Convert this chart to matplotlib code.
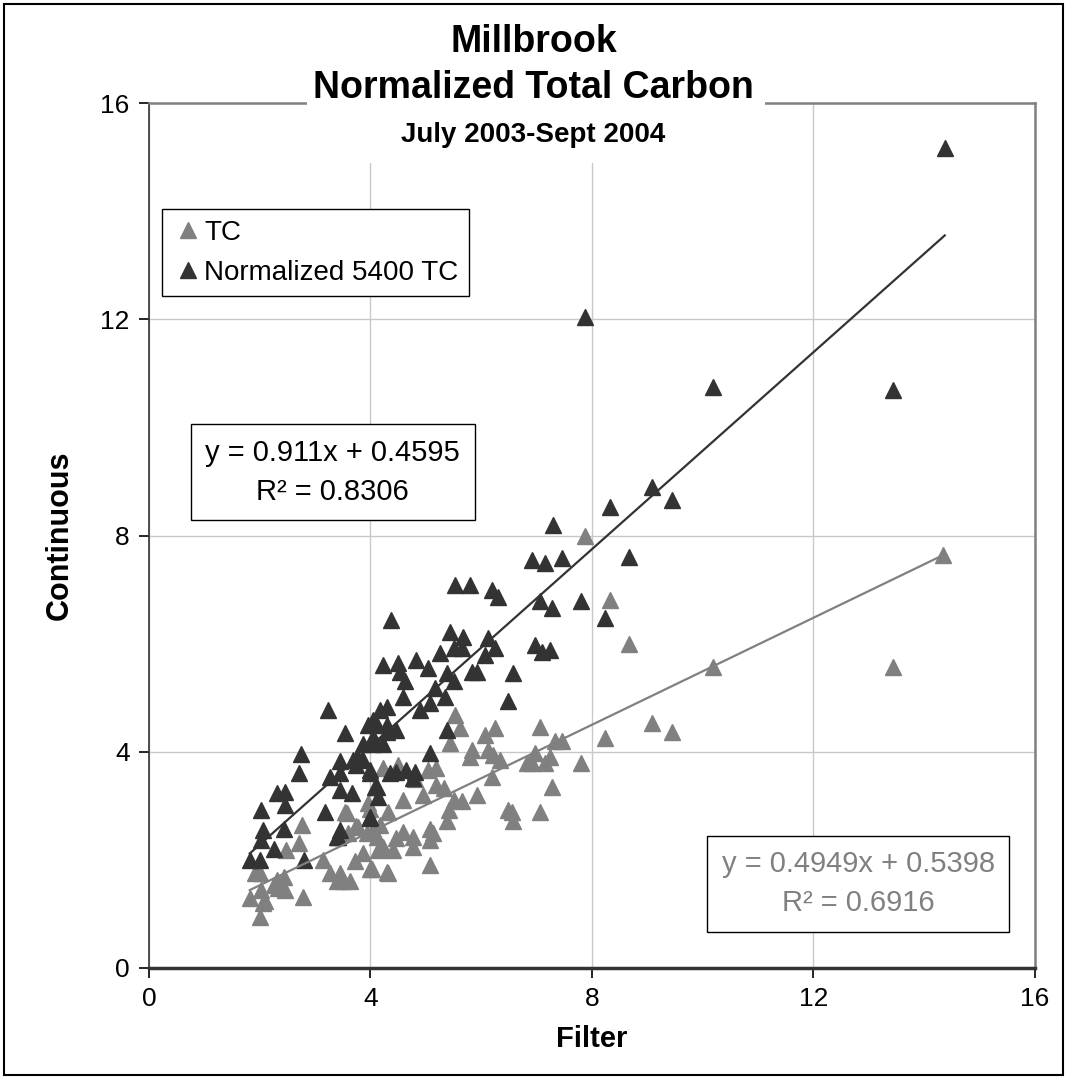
import matplotlib
matplotlib.use('Agg')
import matplotlib.pyplot as plt
from matplotlib.patches import Rectangle
import numpy as np

plt.rcParams['font.family'] = ['Liberation Sans', 'DejaVu Sans']

# TC (filter, continuous)
tc_x = [2.00, 2.06, 1.82, 2.03, 2.25, 2.46, 2.43, 2.31, 1.91, 2.79,
        2.48, 2.71, 2.76, 3.15, 3.27, 3.45, 3.63, 3.39, 3.50, 3.72,
        3.87, 3.99, 3.78, 3.93, 4.11, 4.23, 4.29, 3.54, 4.32, 4.02,
        4.77, 4.41, 4.14, 5.07, 5.07, 4.59, 4.77, 4.47, 5.07, 5.13,
        4.32, 4.59, 4.23, 4.50, 5.04, 5.19, 5.19, 5.32, 5.41, 5.38,
        5.50, 5.65, 5.92, 5.53, 5.62, 5.44, 6.07, 6.25, 5.83, 5.80,
        6.13, 6.22, 6.34, 6.19, 6.49, 6.58, 6.55, 7.06, 7.27, 6.82,
        6.91, 7.15, 6.97, 7.24, 7.06, 7.33, 7.45, 7.81, 8.23, 9.08,
        9.44, 10.19, 13.44, 14.34, 8.66, 8.33, 7.87, 3.57, 3.96, 3.74,
        3.99, 4.17, 4.05, 2.00, 2.09, 2.33, 4.80, 4.95, 3.60]
tc_y = [0.95, 1.20, 1.29, 1.44, 1.54, 1.44, 1.69, 1.63, 1.76, 1.32,
        2.18, 2.31, 2.65, 2.00, 1.76, 1.76, 1.60, 1.60, 1.60, 1.97,
        2.12, 1.84, 2.61, 2.49, 2.43, 2.24, 1.78, 2.89, 1.75, 1.84,
        2.24, 2.18, 2.18, 2.37, 1.90, 2.52, 2.43, 2.40, 2.58, 2.49,
        2.89, 3.11, 3.70, 3.76, 3.66, 3.70, 3.39, 3.33, 2.92, 2.71,
        3.11, 3.08, 3.20, 4.68, 4.43, 4.16, 4.31, 4.43, 4.03, 3.91,
        4.03, 3.94, 3.85, 3.54, 2.92, 2.71, 2.89, 2.89, 3.35, 3.79,
        3.79, 3.79, 3.97, 3.91, 4.46, 4.19, 4.19, 3.79, 4.25, 4.53,
        4.37, 5.57, 5.57, 7.64, 6.00, 6.81, 8.00, 2.87, 3.05, 2.62,
        2.95, 2.64, 2.55, 1.76, 1.23, 1.48, 3.50, 3.20, 2.50]

# Normalized 5400 TC (filter, continuous)
norm_x = [1.82, 2.00, 2.80, 2.25, 2.03, 2.06, 2.43, 2.03, 2.46, 2.31,
          2.46, 2.71, 2.74, 3.18, 3.45, 3.42, 3.99, 3.45, 3.66, 3.27,
          3.45, 3.45, 3.75, 3.87, 3.99, 4.11, 4.14, 3.24, 3.54, 3.87,
          4.05, 4.23, 3.96, 4.11, 4.29, 4.17, 4.29, 4.23, 4.37, 4.50,
          4.83, 5.04, 4.53, 4.62, 5.38, 5.50, 5.83, 5.92, 6.58, 5.16,
          5.35, 4.59, 5.07, 4.89, 6.49, 5.26, 5.44, 5.68, 5.50, 5.65,
          6.13, 6.25, 6.07, 5.53, 5.80, 6.19, 6.31, 6.91, 7.15, 7.45,
          7.30, 7.87, 8.66, 7.06, 7.27, 7.81, 8.23, 6.97, 7.09, 7.24,
          8.33, 9.08, 9.44, 10.19, 13.44, 14.37, 4.05, 4.05, 4.47, 4.29,
          5.38, 5.07, 4.35, 4.47, 4.65, 4.80, 4.77, 3.99, 4.08, 3.99,
          3.69, 3.74, 3.39]
norm_y = [2.00, 2.00, 2.00, 2.21, 2.37, 2.55, 2.58, 2.92, 3.02, 3.24,
          3.26, 3.60, 3.96, 2.89, 2.55, 2.43, 2.77, 3.29, 3.24, 3.54,
          3.60, 3.82, 3.91, 3.85, 3.60, 3.35, 3.17, 4.77, 4.35, 4.15,
          4.15, 4.15, 4.50, 4.50, 4.50, 4.77, 4.83, 5.60, 6.44, 5.64,
          5.70, 5.54, 5.48, 5.30, 5.45, 5.30, 5.48, 5.48, 5.45, 5.17,
          5.02, 5.02, 4.90, 4.77, 4.93, 5.82, 6.22, 6.13, 5.91, 5.91,
          6.10, 5.91, 5.79, 7.08, 7.08, 6.99, 6.87, 7.55, 7.49, 7.58,
          8.20, 12.05, 7.61, 6.78, 6.65, 6.78, 6.47, 5.97, 5.85, 5.88,
          8.53, 8.90, 8.66, 10.75, 10.69, 15.17, 4.59, 4.28, 4.40, 4.37,
          4.40, 3.97, 3.60, 3.63, 3.66, 3.63, 3.51, 3.66, 3.35, 2.80,
          3.85, 3.75, 2.43]

# trendline coefficients (slope, intercept, r2) as printed on the chart
tc_fit = (0.4949, 0.5398, 0.6916)
norm_fit = (0.911, 0.4595, 0.8306)

ticks = [0, 4, 8, 12, 16]

DARK = '#333333'
GREY = '#808080'

fig = plt.figure(figsize=(10.67, 10.79), dpi=100)
ax = fig.add_axes([0.1396, 0.1029, 0.8304, 0.8016])

ax.plot(tc_x, tc_y, linestyle='none', marker='^', ms=11, color=GREY,
        markeredgecolor=GREY, label='TC', zorder=3)
ax.plot(norm_x, norm_y, linestyle='none', marker='^', ms=11, color=DARK,
        markeredgecolor=DARK, label='Normalized 5400 TC', zorder=4)

xs = np.array([min(norm_x), max(norm_x)])
ax.plot(xs, norm_fit[0] * xs + norm_fit[1], color=DARK, lw=1.6, zorder=5)
xs = np.array([min(tc_x), max(tc_x)])
ax.plot(xs, tc_fit[0] * xs + tc_fit[1], color=GREY, lw=1.6, zorder=5)

ax.set_xlim(0, 16)
ax.set_ylim(0, 16)
ax.set_xticks(ticks)
ax.set_yticks(ticks)
ax.grid(True, color='#c8c8c8', lw=1)
ax.set_axisbelow(True)
ax.tick_params(direction='out', length=7, width=1.2, labelsize=19, pad=7, colors='black')

for side in ['top', 'right']:
    ax.spines[side].set_color(GREY)
    ax.spines[side].set_linewidth(1.8)
ax.spines['left'].set_color(DARK)
ax.spines['left'].set_linewidth(1.2)
ax.spines['bottom'].set_color(DARK)
ax.spines['bottom'].set_linewidth(2.5)

ax.set_xlabel('Filter', fontsize=21, fontweight='bold', labelpad=10)
ax.set_ylabel('Continuous', fontsize=22, fontweight='bold', labelpad=18)

leg = ax.legend(loc='upper left', bbox_to_anchor=(0.0147, 0.877), borderaxespad=0,
                fontsize=20, fancybox=False, edgecolor='black', framealpha=1,
                handletextpad=0.05, handlelength=1.1, borderpad=0.38, labelspacing=0.5)
leg.get_frame().set_linewidth(1.0)

ax.text(3.32, 9.17, f'y = {norm_fit[0]}x + {norm_fit[1]}\nR\u00b2 = {norm_fit[2]}',
        ha='center', va='center', fontsize=21, color='black', linespacing=1.5,
        bbox=dict(boxstyle='square,pad=0.5', fc='white', ec='black', lw=1.0), zorder=6)
ax.text(12.81, 1.56, f'y = {tc_fit[0]}x + {tc_fit[1]}\nR\u00b2 = {tc_fit[2]}',
        ha='center', va='center', fontsize=21, color=GREY, linespacing=1.5,
        bbox=dict(boxstyle='square,pad=0.5', fc='white', ec='black', lw=1.0), zorder=6)

# white title area over the top of the plot frame
fig.patches.append(Rectangle((307 / 1067, 1 - 163 / 1079), 458 / 1067, 150 / 1079,
                             transform=fig.transFigure, fc='white', ec='none', zorder=2))
fig.text(0.5, 1 - 42 / 1079, 'Millbrook', ha='center', va='center',
         fontsize=27, fontweight='bold', zorder=3)
fig.text(0.5, 1 - 88 / 1079, 'Normalized Total Carbon', ha='center', va='center',
         fontsize=27, fontweight='bold', zorder=3)
fig.text(0.5, 1 - 135 / 1079, 'July 2003-Sept 2004', ha='center', va='center',
         fontsize=20, fontweight='bold', zorder=3)

# outer chart border
fig.patches.append(Rectangle((0.004, 0.004), 0.992, 0.992, transform=fig.transFigure,
                             fc='none', ec='black', lw=1.5, zorder=4))

fig.savefig('out.png', dpi=100)
